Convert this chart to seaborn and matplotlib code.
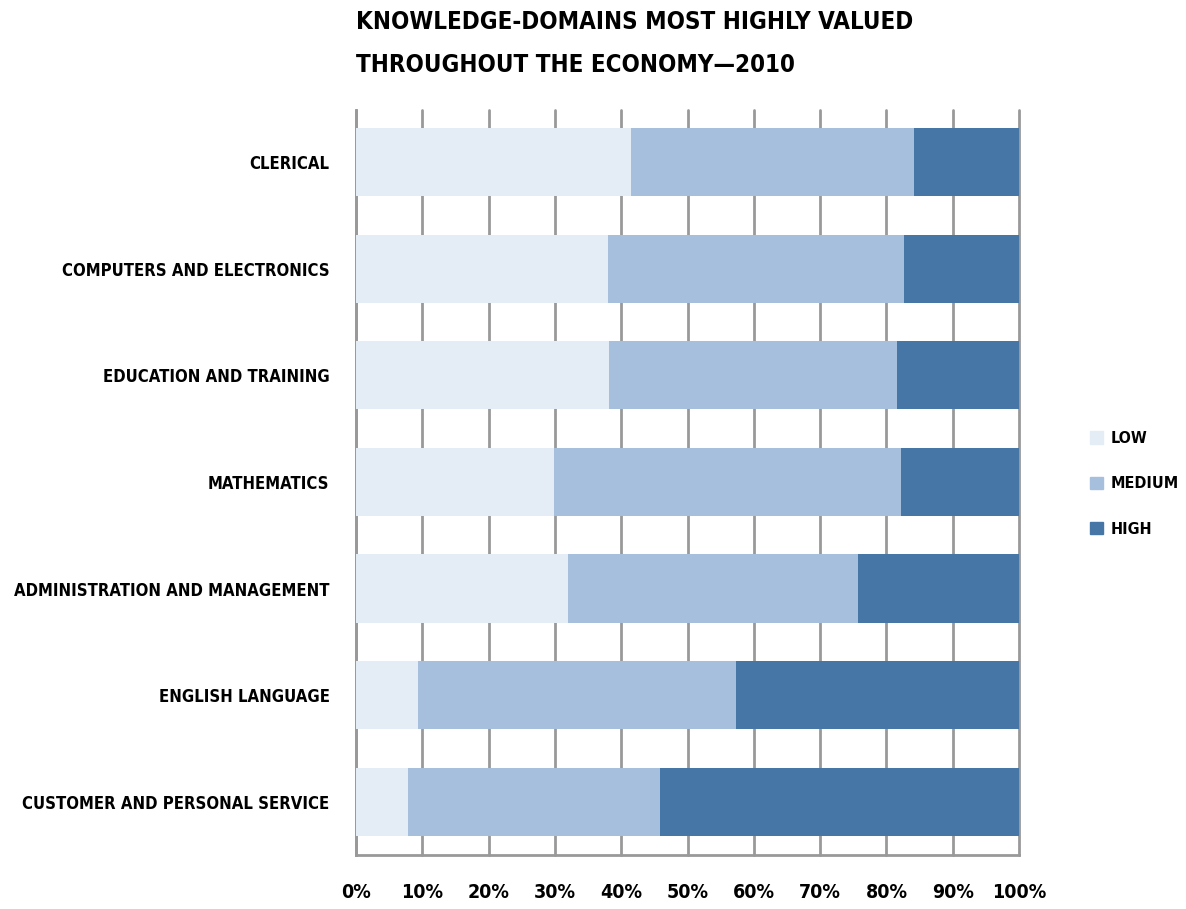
import matplotlib
matplotlib.use("Agg")
import matplotlib.pyplot as plt
import seaborn as sns
import pandas as pd
import numpy as np

# values (percent of occupations)
domains = ["CLERICAL", "COMPUTERS AND ELECTRONICS", "EDUCATION AND TRAINING",
           "MATHEMATICS", "ADMINISTRATION AND MANAGEMENT", "ENGLISH LANGUAGE",
           "CUSTOMER AND PERSONAL SERVICE"]
low = [41.5, 38.0, 38.2, 29.9, 32.0, 9.4, 7.8]
medium = [42.7, 44.7, 43.4, 52.3, 43.7, 47.9, 38.1]
high = [15.8, 17.3, 18.4, 17.8, 24.3, 42.7, 54.1]
levels = ["LOW", "MEDIUM", "HIGH"]
colors = ["#e4ecf5", "#a5bfdd", "#4676a6"]

sns.set_style("white")
plt.rcParams["font.family"] = ["DejaVu Sans"]
plt.rcParams["text.color"] = "black"
plt.rcParams["xtick.color"] = "black"
plt.rcParams["ytick.color"] = "black"

df = pd.DataFrame({"domain": domains, "low": low, "medium": medium, "high": high})
df["lm"] = df["low"] + df["medium"]
df["total"] = df["lm"] + df["high"]

fig = plt.figure(figsize=(11.86, 9.09), dpi=100)
ax = fig.add_axes([356 / 1186, 1 - 855 / 909, 663 / 1186, 745 / 909])

# stacked bars: draw cumulative totals back to front
for col, c in zip(["total", "lm", "low"], colors[::-1]):
    sns.barplot(data=df, x=col, y="domain", color=c, width=0.64, ax=ax,
                orient="h", zorder=3, edgecolor="none", linewidth=0,
                saturation=1)

ax.set_xlim(0, 100)
ax.set_ylim(6.5, -0.49)
ax.set_xticks(np.arange(0, 101, 10))
ax.set_xticklabels([f"{v}%" for v in range(0, 101, 10)])
ax.grid(axis="x", color="#999999", linewidth=2, zorder=0)
for gl in ax.get_xgridlines():
    gl.set_clip_on(False)
ax.set_axisbelow(True)
for s in ["top", "right"]:
    ax.spines[s].set_visible(False)
for s in ["left", "bottom"]:
    ax.spines[s].set_color("#999999")
    ax.spines[s].set_linewidth(2)
ax.tick_params(axis="x", length=0, pad=20, labelsize=14)
ax.tick_params(axis="y", length=0, pad=19, labelsize=12)
for t in ax.get_xticklabels() + ax.get_yticklabels():
    t.set_fontweight("bold")
    t.set_fontstretch("condensed")
ax.set_xlabel("")
ax.set_ylabel("")

fig.text(356 / 1186, 1 - 22 / 909, "KNOWLEDGE-DOMAINS MOST HIGHLY VALUED",
         fontsize=17.3, fontweight="bold", fontstretch="condensed", va="center")
fig.text(356 / 1186, 1 - 65 / 909, "THROUGHOUT THE ECONOMY\u20142010",
         fontsize=17.3, fontweight="bold", fontstretch="condensed", va="center")

handles = [plt.Rectangle((0, 0), 1, 1, color=c) for c in colors]
leg = fig.legend(handles, levels, loc="center left",
                 bbox_to_anchor=(1090 / 1186, 1 - 484 / 909), frameon=False,
                 handlelength=0.8, handleheight=0.8, handletextpad=0.5,
                 labelspacing=1.9, borderaxespad=0, borderpad=0,
                 prop={"weight": "bold", "size": 11.5, "stretch": "condensed"})

fig.savefig("out.png", dpi=100)
